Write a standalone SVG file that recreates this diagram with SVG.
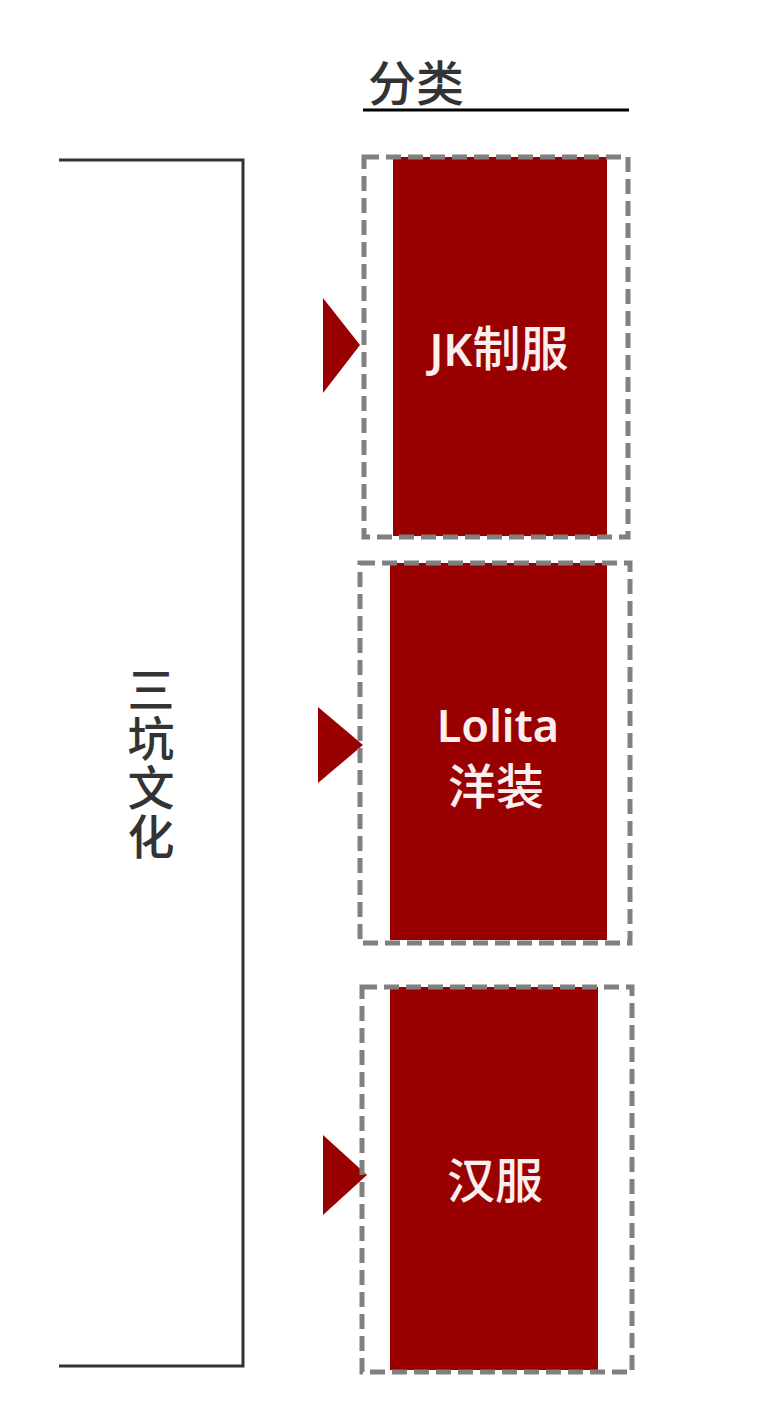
<svg xmlns="http://www.w3.org/2000/svg" width="764" height="1422" viewBox="0 0 764 1422">
<style>
.red{fill:#990000}
.dash{fill:none;stroke:#808080;stroke-width:5;stroke-dasharray:15 7}
.lbl{font-family:"Noto Sans","Noto Sans CJK SC",sans-serif;font-size:45px;font-weight:600;fill:#fbeeee;text-anchor:middle}
.cjk{font-family:"Noto Sans CJK SC",sans-serif;font-size:48px;font-weight:500}
.dark{font-family:"Noto Sans CJK SC","Noto Sans",sans-serif;font-size:48px;font-weight:500;fill:#333333;text-anchor:middle}
</style>
<rect width="764" height="1422" fill="#ffffff"/>
<g id="title">
<text class="dark" x="416" y="101">分类</text>
<line x1="363" y1="110" x2="629" y2="110" stroke="#000" stroke-width="3"/>
</g>
<g id="sankeng">
<text class="dark" x="151" y="764" style="writing-mode:vertical-rl;font-size:47px;letter-spacing:2px">三坑文化</text>
</g>
<g id="connectors">
<polyline points="59,160 243,160 243,1366 59,1366" fill="none" stroke="#333333" stroke-width="3"/>
<polygon class="red" points="323,298 360,345 323,393"/>
<polygon class="red" points="318,707 363,745 318,783"/>
<polygon class="red" points="323,1135 367,1175 323,1215"/>
</g>
<g id="jk">
<rect class="red" x="393" y="157" width="214" height="379"/>
<rect class="dash" x="364" y="157" width="264" height="380"/>
<text class="lbl" x="499" y="366">JK<tspan class="cjk">制服</tspan></text>
</g>
<g id="lolita">
<rect class="red" x="390" y="563" width="217" height="377"/>
<rect class="dash" x="360" y="563" width="270" height="380"/>
<text class="lbl" x="498" y="742">Lolita<tspan class="cjk" x="496" y="804">洋装</tspan></text>
</g>
<g id="hanfu">
<rect class="red" x="390" y="987" width="208" height="383"/>
<rect class="dash" x="362" y="987" width="270" height="385"/>
<text class="lbl cjk" x="495" y="1198">汉服</text>
</g>
</svg>
